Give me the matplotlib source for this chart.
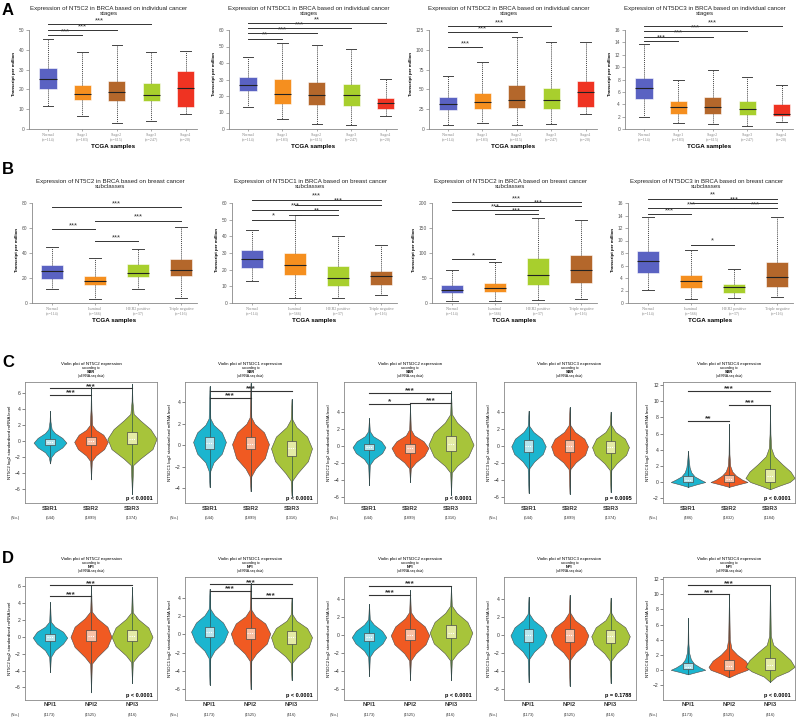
import numpy as np
import matplotlib.pyplot as plt
from matplotlib.patches import Rectangle

plt.rcParams['font.family'] = ['Liberation Sans', 'DejaVu Sans']

# %% data: box plots (A: stages, B: subclasses)
# each group: [whisker low, q1, median, q3, whisker high]
genes_ab = ['NT5C2', 'NT5DC1', 'NT5DC2', 'NT5DC3']
stage_groups = ['Normal', 'Stage1', 'Stage2', 'Stage3', 'Stage4']
stage_n = [114, 183, 615, 247, 20]
subclass_groups = ['Normal', 'Luminal', 'HER2 positive', 'Triple negative']
subclass_n = [114, 566, 37, 116]

a_nt5c2 = [[11.6, 20.0, 25.2, 30.8, 45.3], [6.7, 14.5, 17.5, 22.4, 38.7], [2.9, 14.1, 18.7, 24.2, 42.3],
           [3.9, 14.1, 17.2, 23.2, 38.7], [7.7, 11.1, 20.5, 29.1, 39.2]]
a_nt5dc1 = [[13.1, 23.2, 26.5, 31.3, 43.8], [5.9, 15.0, 21.0, 30.1, 52.1], [2.8, 14.3, 20.4, 28.3, 50.7],
            [2.2, 13.9, 20.4, 27.3, 48.5], [8.1, 12.3, 15.6, 18.8, 30.5]]
a_nt5dc2 = [[4.6, 23.6, 31.1, 40.4, 66.5], [7.2, 24.8, 33.7, 45.0, 84.2], [4.6, 26.1, 36.2, 55.1, 116.6],
            [5.9, 24.8, 36.2, 51.8, 109.4], [18.5, 28.2, 46.3, 60.2, 110.3]]
a_nt5dc3 = [[2.0, 4.8, 6.7, 8.3, 13.7], [1.0, 2.5, 3.5, 4.6, 7.9], [0.75, 2.4, 3.5, 5.1, 9.6],
            [0.5, 2.25, 3.3, 4.6, 8.45], [1.1, 2.1, 2.4, 4.0, 7.1]]

b_nt5c2 = [[11.5, 19.6, 25.5, 30.6, 45.1], [2.95, 14.2, 17.4, 22.0, 35.7], [11.5, 20.7, 24.4, 31.1, 43.5],
           [4.0, 22.0, 26.8, 35.4, 60.7]]
b_nt5dc1 = [[13, 21, 26.5, 32, 44], [3, 17, 23, 30, 53], [3, 10, 15, 22, 40], [5, 11, 16, 19, 35]]
b_nt5dc2 = [[5, 20, 26, 36, 66], [5, 22, 30, 40, 82], [6, 36, 56, 90, 170], [8, 40, 66, 96, 166]]
b_nt5dc3 = [[2.1, 4.76, 6.74, 8.3, 13.7], [0.6, 2.4, 3.5, 4.5, 8.5], [0.8, 1.6, 2.5, 3.05, 5.45],
            [0.9, 2.6, 4.1, 6.6, 13.7]]

a_top = [(50, 10), (60, 10), (125, 25), (16, 2)]
b_top = [(80, 20), (60, 10), (200, 50), (16, 2)]

# significance: (group i, group j, y, stars)
a_sig = [
    [(0, 1, 47.3, '***'), (0, 2, 50, '***'), (0, 3, 52.9, '***')],
    [(0, 1, 54.7, '**'), (0, 2, 58, '***'), (0, 3, 61, '***'), (0, 4, 64, '**')],
    [(0, 1, 103, '***'), (0, 2, 122, '***'), (0, 3, 130, '***')],
    [(0, 1, 14.2, '***'), (0, 2, 14.9, '***'), (0, 3, 15.8, '***'), (0, 4, 16.6, '***')],
]
b_sig = [
    [(0, 1, 59, '***'), (1, 2, 49.4, '***'), (1, 3, 66, '***'), (0, 3, 76.5, '***')],
    [(0, 1, 50, '*'), (1, 2, 53, '**'), (0, 2, 56, '***'), (1, 3, 59, '***'), (0, 3, 62, '***')],
    [(0, 1, 88, '*'), (1, 2, 178, '***'), (0, 2, 186, '***'), (1, 3, 194, '***'), (0, 3, 202, '***')],
    [(0, 1, 14.2, '***'), (1, 2, 9.3, '*'), (0, 2, 15.2, '***'), (2, 3, 15.2, '***'),
     (1, 3, 16.0, '***'), (0, 3, 16.7, '**')],
]

# %% data: violin plots (C: SBR, D: NPI); profiles are (y, half width) pairs, boxes (q1, median, q3)
genes_cd = ['NT5C2', 'NT5DC1', 'NT5DC2', 'NT5DC3', 'NT5DC4']
sbr_groups = ['SBR1', 'SBR2', 'SBR3']
npi_groups = ['NPI1', 'NPI2', 'NPI3']
c_counts = [[544, 1899, 1374], [544, 1899, 1316], [544, 1899, 1316], [544, 1899, 1374], [486, 1832, 1184]]
d_counts = [[1173, 1525, 416]] * 5
c_pvals = ['p < 0.0001', 'p < 0.0001', 'p < 0.0001', 'p = 0.0095', 'p < 0.0001']
d_pvals = ['p < 0.0001', 'p < 0.0001', 'p < 0.0001', 'p = 0.1788', 'p < 0.0001']

c_profiles = [
    [[(-2.8, 0), (-2.0, 0.03), (-1.4, 0.12), (-0.8, 0.3), (-0.2, 0.4), (0.4, 0.3), (1.0, 0.12), (1.5, 0.04), (2.5, 0.01), (3.8, 0)],
     [(-4.8, 0), (-2.5, 0.02), (-1.8, 0.12), (-1.0, 0.32), (-0.1, 0.41), (0.8, 0.3), (1.4, 0.12), (2.0, 0.03), (4.0, 0.01), (6.8, 0)],
     [(-6.6, 0), (-3.0, 0.03), (-2.2, 0.2), (-1.0, 0.5), (0.3, 0.6), (1.5, 0.45), (2.6, 0.2), (3.4, 0.04), (5.0, 0.01), (7.2, 0)]],
    [[(-3.9, 0), (-2.4, 0.02), (-1.6, 0.1), (-0.8, 0.3), (0.3, 0.4), (1.2, 0.3), (1.9, 0.1), (2.5, 0.02), (5.5, 0)],
     [(-4.3, 0), (-2.9, 0.02), (-2.2, 0.12), (-1.2, 0.35), (0.1, 0.45), (1.2, 0.33), (2.0, 0.1), (2.6, 0.02), (5.8, 0)],
     [(-4.7, 0), (-3.3, 0.02), (-2.6, 0.15), (-1.5, 0.4), (-0.3, 0.5), (0.8, 0.38), (1.7, 0.12), (2.4, 0.02), (4.3, 0)]],
    [[(-4.6, 0), (-2.2, 0.02), (-1.5, 0.12), (-0.8, 0.32), (-0.1, 0.4), (0.6, 0.3), (1.2, 0.1), (1.8, 0.02), (3.3, 0)],
     [(-4.2, 0), (-2.6, 0.02), (-1.9, 0.14), (-1.1, 0.35), (-0.2, 0.45), (0.6, 0.33), (1.3, 0.1), (2.0, 0.02), (4.9, 0)],
     [(-5.7, 0), (-3.1, 0.02), (-2.3, 0.15), (-1.2, 0.42), (0.2, 0.55), (1.6, 0.42), (2.8, 0.15), (3.8, 0.02), (6.5, 0)]],
    [[(-5.5, 0), (-2.6, 0.02), (-1.8, 0.14), (-0.9, 0.35), (0.0, 0.42), (0.9, 0.33), (1.7, 0.12), (2.4, 0.02), (4.2, 0)],
     [(-5.6, 0), (-2.7, 0.02), (-1.9, 0.15), (-1.0, 0.38), (0.0, 0.45), (0.9, 0.36), (1.7, 0.13), (2.5, 0.02), (4.6, 0)],
     [(-5.4, 0), (-2.8, 0.02), (-2.0, 0.15), (-1.0, 0.38), (-0.1, 0.45), (0.9, 0.35), (1.7, 0.12), (2.5, 0.02), (4.1, 0)]],
    [[(-0.6, 0), (-0.3, 0.2), (0.0, 0.42), (0.3, 0.3), (0.7, 0.16), (1.2, 0.08), (1.8, 0.04), (2.6, 0.02), (3.8, 0)],
     [(-0.6, 0), (-0.3, 0.22), (0.0, 0.45), (0.3, 0.32), (0.8, 0.17), (1.3, 0.08), (2.0, 0.03), (3.5, 0.01), (7.2, 0)],
     [(-0.9, 0), (-0.5, 0.2), (0.0, 0.48), (0.5, 0.6), (1.3, 0.5), (2.2, 0.3), (3.2, 0.1), (4.2, 0.03), (6.0, 0.01), (9.5, 0)]],
]
c_boxes = [
    [(-0.5, -0.15, 0.3), (-0.55, 0.0, 0.5), (-0.4, 0.3, 1.2)],
    [(-0.35, 0.25, 0.75), (-0.4, 0.1, 0.75), (-1.0, -0.25, 0.4)],
    [(-0.45, -0.05, 0.3), (-0.75, -0.25, 0.3), (-0.5, 0.25, 1.2)],
    [(-0.7, 0.0, 0.7), (-0.7, 0.05, 0.7), (-0.75, -0.05, 0.65)],
    [(0.05, 0.3, 0.75), (0.05, 0.35, 0.85), (0.0, 0.7, 1.6)],
]
d_profiles = [
    [[(-4.2, 0), (-2.4, 0.02), (-1.6, 0.12), (-0.8, 0.32), (-0.1, 0.42), (0.6, 0.32), (1.2, 0.12), (1.8, 0.02), (4.1, 0)],
     [(-6.6, 0), (-3.2, 0.02), (-2.4, 0.15), (-1.2, 0.4), (0.0, 0.5), (1.2, 0.4), (2.2, 0.15), (3.0, 0.02), (6.1, 0)],
     [(-5.5, 0), (-3.0, 0.02), (-2.2, 0.15), (-1.1, 0.4), (0.0, 0.5), (1.1, 0.4), (2.1, 0.15), (2.9, 0.02), (5.9, 0)]],
    [[(-5.5, 0), (-2.6, 0.02), (-1.8, 0.12), (-0.8, 0.35), (0.3, 0.45), (1.3, 0.33), (2.1, 0.12), (2.8, 0.02), (5.0, 0)],
     [(-6.0, 0), (-2.9, 0.02), (-2.1, 0.14), (-1.0, 0.4), (0.1, 0.48), (1.2, 0.36), (2.0, 0.12), (2.7, 0.02), (5.6, 0)],
     [(-5.0, 0), (-3.1, 0.02), (-2.4, 0.15), (-1.4, 0.42), (-0.3, 0.5), (0.7, 0.38), (1.5, 0.12), (2.2, 0.02), (4.0, 0)]],
    [[(-4.5, 0), (-2.4, 0.02), (-1.7, 0.12), (-0.9, 0.33), (-0.2, 0.42), (0.5, 0.32), (1.2, 0.12), (1.8, 0.02), (3.5, 0)],
     [(-5.0, 0), (-2.8, 0.02), (-2.0, 0.14), (-1.0, 0.38), (0.0, 0.47), (1.0, 0.36), (1.9, 0.12), (2.6, 0.02), (5.0, 0)],
     [(-5.0, 0), (-2.8, 0.02), (-2.0, 0.15), (-0.9, 0.42), (0.3, 0.52), (1.5, 0.4), (2.5, 0.14), (3.3, 0.02), (5.5, 0)]],
    [[(-5.2, 0), (-2.6, 0.02), (-1.8, 0.14), (-0.9, 0.36), (0.0, 0.44), (0.9, 0.34), (1.7, 0.12), (2.4, 0.02), (4.3, 0)],
     [(-5.6, 0), (-2.7, 0.02), (-1.9, 0.15), (-1.0, 0.38), (0.0, 0.46), (0.9, 0.36), (1.7, 0.13), (2.5, 0.02), (4.5, 0)],
     [(-5.3, 0), (-2.8, 0.02), (-2.0, 0.15), (-1.0, 0.4), (-0.1, 0.47), (0.9, 0.36), (1.7, 0.12), (2.5, 0.02), (4.2, 0)]],
    [[(-0.6, 0), (-0.3, 0.2), (0.0, 0.42), (0.3, 0.3), (0.8, 0.15), (1.4, 0.07), (2.2, 0.03), (3.5, 0.01), (6.9, 0)],
     [(-1.0, 0), (-0.5, 0.2), (0.0, 0.45), (0.4, 0.5), (1.2, 0.4), (2.0, 0.2), (2.8, 0.06), (4.0, 0.02), (10.1, 0)],
     [(-1.6, 0), (-0.9, 0.15), (-0.2, 0.45), (0.4, 0.6), (1.3, 0.5), (2.3, 0.3), (3.3, 0.08), (4.5, 0.02), (11.2, 0)]],
]
d_boxes = [
    [(-0.5, -0.05, 0.3), (-0.55, 0.1, 0.8), (-0.55, 0.1, 0.8)],
    [(-0.3, 0.3, 0.8), (-0.5, 0.1, 0.7), (-1.0, -0.3, 0.4)],
    [(-0.6, -0.2, 0.3), (-0.5, 0.0, 0.7), (-0.3, 0.3, 1.2)],
    [(-0.7, 0.0, 0.7), (-0.7, 0.0, 0.7), (-0.8, -0.1, 0.6)],
    [(0.05, 0.35, 0.9), (0.0, 0.5, 1.3), (0.0, 0.6, 1.5)],
]
c_ylims = [(-7.75, 7.4), (-5.4, 5.9), (-6.7, 7.6), (-6.7, 7.6), (-2.6, 12.4)]
d_ylims = [(-7.5, 7.1), (-7.2, 6.3), (-7.2, 6.5), (-7.2, 6.5), (-4.0, 12.3)]
c_yticks = [range(-6, 7, 2), range(-4, 5, 2), range(-6, 5, 2), range(-6, 5, 2), range(-2, 13, 2)]
d_yticks = [range(-6, 7, 2), range(-6, 5, 2), range(-6, 5, 2), range(-6, 5, 2), range(-2, 13, 2)]
c_sig = [
    [(0, 1, 5.8, '***'), (0, 2, 6.6, '***')],
    [(0, 1, 4.4, '***'), (0, 2, 5.1, '***')],
    [(0, 1, 5.0, '*'), (1, 2, 5.1, '***'), (0, 2, 6.3, '***')],
    [],
    [(0, 1, 7.6, '**'), (1, 2, 9.6, '***'), (0, 2, 11.3, '***')],
]
d_sig = [
    [(0, 1, 4.8, '***'), (0, 2, 6.1, '***')],
    [(1, 2, 4.0, '***'), (0, 1, 4.8, '***'), (0, 2, 5.5, '***')],
    [(0, 1, 4.5, '***'), (0, 2, 5.5, '***')],
    [],
    [(0, 1, 10.0, '***'), (0, 2, 11.2, '***')],
]

# %% styling
W, H = 800, 718
box_cols_a = ['#5a62c2', '#f58f1f', '#b4672b', '#a8cf2d', '#ef3322']
box_cols_b = ['#5a62c2', '#f58f1f', '#a8cf2d', '#b4672b']
vio_cols = ['#1cb5cf', '#f05a22', '#a7c43a']
vio_light = ['#b6e4ec', '#f8c0a4', '#e4eba6']

fig = plt.figure(figsize=(8, 7.18), dpi=100)


def px_axes(x0, y0, x1, y1):
    return fig.add_axes([x0 / W, 1 - y1 / H, (x1 - x0) / W, (y1 - y0) / H])


def ftext(x, y, s, **kw):
    fig.text(x / W, 1 - y / H, s, **kw)


def box_panel(x_off, geom, gene, subtitle, groups, ns, data, cols, top, sig):
    ax_l, ax_r, c0, sp, y_ax0, y_ax1, y_t, y_0, title_y = geom
    T, step = top
    ax = px_axes(x_off + ax_l, y_ax0, x_off + ax_r, y_ax1)
    unit = (y_0 - y_t) / T
    ax.set_ylim(-(y_ax1 - y_0) / unit, T + (y_t - y_ax0) / unit)
    ax.set_xlim(1 - (c0 - ax_l) / sp, 1 + (ax_r - c0) / sp)
    stats = [dict(whislo=d[0], q1=d[1], med=d[2], q3=d[3], whishi=d[4], fliers=[]) for d in data]
    pos = np.arange(1, len(data) + 1)
    bp = ax.bxp(stats, positions=pos, widths=0.5, patch_artist=True, showfliers=False,
                whiskerprops=dict(ls=(0, (1, 1)), color='#444444', lw=0.7),
                capprops=dict(color='#444444', lw=0.7), capwidths=0.3,
                medianprops=dict(color='#222222', lw=0.8))
    for patch, c in zip(bp['boxes'], cols):
        patch.set_facecolor(c)
        patch.set_edgecolor('#ffffff')
        patch.set_linewidth(0.4)
    for i, j, y, s in sig:
        ax.plot([pos[i], pos[j]], [y, y], color='#333333', lw=0.7, clip_on=False)
        ax.text((pos[i] + pos[j]) / 2, y, s, ha='center', va='bottom', fontsize=5.5,
                color='#333333', clip_on=False)
    for side in ['top', 'right']:
        ax.spines[side].set_visible(False)
    ax.spines['left'].set_bounds(0, T)
    ax.spines['bottom'].set_position(('data', 0))
    for side in ['left', 'bottom']:
        ax.spines[side].set_color('#888888')
        ax.spines[side].set_linewidth(0.6)
    ax.set_yticks(np.arange(0, T + 0.1, step))
    ax.tick_params(axis='y', labelsize=3.5, length=2, width=0.5, colors='#888888', labelcolor='#555555', pad=1.5)
    ax.set_xticks(pos)
    ax.set_xticklabels([f'{g}\n(n={n})' for g, n in zip(groups, ns)], family='Liberation Serif',
                       fontsize=3, color='#777777', linespacing=1.1)
    ax.tick_params(axis='x', length=1.5, width=0.5, colors='#888888', pad=1.5)
    ax.set_ylabel('Transcript per million', fontsize=3.2, fontweight='bold', labelpad=2)
    ax.set_xlabel('TCGA samples', fontsize=4.5, fontweight='bold', labelpad=2)
    cx = x_off + (ax_l + ax_r) / 2 - 4
    ftext(cx, title_y, f'Expression of {gene} in BRCA based on {subtitle}', ha='center',
          va='top', fontsize=4.4, color='#222222', linespacing=1.0)
    return ax


def violin_panel(col, y_ax0, y_ax1, title_y, gene, crit, groups, counts, prof, boxes, ylim,
                 yticks, sig, pval):
    x0 = 25 + col * 159.5
    x1 = x0 + 132
    ax = px_axes(x0, y_ax0, x1, y_ax1)
    for k, (pr, bx) in enumerate(zip(prof, boxes)):
        p = k + 1
        ys = np.array([v[0] for v in pr])
        ws = np.array([v[1] for v in pr])
        ax.plot([p, p], [ys[0], ys[-1]], color='#27494b', lw=0.6, zorder=1)
        ax.fill_betweenx(ys, p - ws, p + ws, facecolor=vio_cols[k], edgecolor='#4a4a4a', lw=0.4, zorder=2)
        ax.plot([p, p], [ys[0], ys[-1]], color='#27494b', lw=0.45, zorder=3)
        q1, med, q3 = bx
        ax.add_patch(Rectangle((p - 0.11, q1), 0.22, q3 - q1, facecolor=vio_light[k],
                               edgecolor='#4a4a4a', lw=0.5, zorder=4))
        ax.plot([p - 0.08, p + 0.08], [med, med], color='white', ls=(0, (1, 1)), lw=0.8, zorder=5)
    for i, j, y, s in sig:
        ax.plot([i + 1, j + 1], [y, y], color='#333333', lw=0.8, zorder=6)
        ax.text((i + j + 2) / 2, y - 0.012 * (ylim[1] - ylim[0]), s, ha='center', va='bottom',
                fontsize=6, fontweight='bold', color='#333333', zorder=6)
    ax.set_xlim(1 - 25 / 41, 3 + 25 / 41)
    ax.set_ylim(*ylim)
    ax.set_yticks(list(yticks))
    ax.set_xticks([])
    ax.tick_params(axis='y', labelsize=3.6, length=2, width=0.5, pad=1, colors='#555555', labelcolor='#333333')
    for s in ax.spines.values():
        s.set_color('#888888')
        s.set_linewidth(0.6)
    ax.set_ylabel(f'{gene} log2 standardised mRNA level', fontsize=3.2, labelpad=2)
    ax.text(0.97, 0.015, pval, transform=ax.transAxes, ha='right', va='bottom', fontsize=4,
            fontweight='bold')
    h = y_ax1 - y_ax0
    for k, (g, n) in enumerate(zip(groups, counts)):
        ax.text(k + 1, -5 / h, g, transform=ax.get_xaxis_transform(), ha='center', va='center',
                fontsize=4.3, fontweight='bold', color='#333333')
        ax.text(k + 1, -15 / h, f'({n})', transform=ax.get_xaxis_transform(), ha='center',
                va='center', fontsize=3, color='#333333')
    ftext(x0 - 10, y_ax1 + 15, '(No.)', ha='center', va='center', fontsize=3, color='#333333')
    cx = (x0 + x1) / 2
    ftext(cx, title_y, f'Violin plot of {gene} expression', ha='center', va='center', fontsize=3.2)
    ftext(cx, title_y + 4.2, 'according to', ha='center', va='center', fontsize=2.3)
    ftext(cx, title_y + 8.0, crit, ha='center', va='center', fontsize=2.8, fontweight='bold')
    ftext(cx, title_y + 11.8, '(all RNA-seq data)', ha='center', va='center', fontsize=2.3)
    return ax


# %% rows A and B
geom_a = (29, 197, 48, 34.4, 18, 131, 30, 129, 6)
geom_b = (32, 197, 52, 43, 194, 305, 203, 303, 179)
offsets = [0, 200, 400, 596]
for k, (gene, data) in enumerate(zip(genes_ab, [a_nt5c2, a_nt5dc1, a_nt5dc2, a_nt5dc3])):
    box_panel(offsets[k], geom_a, gene, 'individual cancer\nstages', stage_groups, stage_n,
              data, box_cols_a, a_top[k], a_sig[k])
for k, (gene, data) in enumerate(zip(genes_ab, [b_nt5c2, b_nt5dc1, b_nt5dc2, b_nt5dc3])):
    box_panel(offsets[k], geom_b, gene, 'breast cancer\nsubclasses', subclass_groups, subclass_n,
              data, box_cols_b, b_top[k], b_sig[k])

# %% rows C and D
for k, gene in enumerate(genes_cd):
    violin_panel(k, 382, 503, 364, gene, 'SBR', sbr_groups, c_counts[k], c_profiles[k], c_boxes[k],
                 c_ylims[k], c_yticks[k], c_sig[k], c_pvals[k])
    violin_panel(k, 577, 700, 559, gene, 'NPI', npi_groups, d_counts[k], d_profiles[k], d_boxes[k],
                 d_ylims[k], d_yticks[k], d_sig[k], d_pvals[k])

for letter, y in zip('ABCD', [3, 162, 355, 551]):
    ftext(2, y, letter, ha='left', va='top', fontsize=12, fontweight='bold')

fig.savefig('out.png', dpi=100)
